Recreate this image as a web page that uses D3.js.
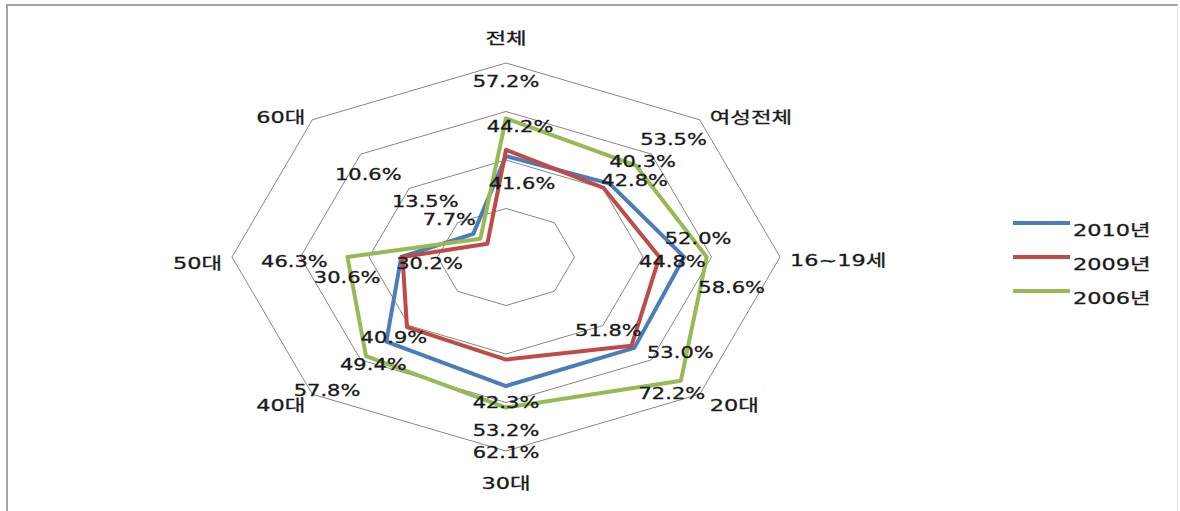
<!DOCTYPE html>
<html>
<head>
<meta charset="utf-8">
<script src="https://cdn.jsdelivr.net/npm/d3@7"></script>
<style>
  html, body { margin: 0; padding: 0; background: #fff; }
  svg { display: block; }
  text { font-family: "DejaVu Sans", "Noto Sans CJK KR", sans-serif; fill: #1a1a1a; stroke: #1a1a1a; stroke-width: 0.3px; }
</style>
</head>
<body>
<svg id="chart" width="1180" height="511"></svg>
<script>
// Categories around the radar (clockwise from top)
const categories = ["전체", "여성전체", "16~19세", "20대", "30대", "40대", "50대", "60대"];

// Series values (%)
const seriesNames = ["2010년", "2009년", "2006년"];
const values2010 = [41.6, 42.8, 52.0, 53.0, 53.2, 49.4, 30.6, 13.5];
const values2009 = [44.2, 40.3, 44.8, 51.8, 42.3, 40.9, 30.2, 7.7];
const values2006 = [57.2, 53.5, 58.6, 72.2, 62.1, 57.8, 46.3, 10.6];

// Ring ticks
const ringTicks = [20, 40, 60, 80];

// Label nudges (dx, dy) from each data point, per series
const labelNudge2010 = [[16, 27], [25, -3], [14, -18], [46, 5], [0, 45], [-13, 23], [-54, 21], [-48, -32]];
const labelNudge2009 = [[14, -23], [39, -26], [13, 5], [-23, -15], [0, 43], [-13, 10], [27, 7], [-38, -24]];
const labelNudge2006 = [[0, -37], [38, -26], [25, 31], [-9, 13], [0, 45], [-39, 34], [-53, 5], [-112, -64]];
// Category label nudges from each outer vertex
const catNudge = [[0, -25], [10, -3], [10, 3], [10, 11], [0, 32], [-7, 11], [-10, 6], [-7, -3]];

const colors = ["#4A7EBB", "#BE4B48", "#98B954"];
const series = [
  { name: seriesNames[0], values: values2010, nudge: labelNudge2010, color: colors[0] },
  { name: seriesNames[1], values: values2009, nudge: labelNudge2009, color: colors[1] },
  { name: seriesNames[2], values: values2006, nudge: labelNudge2006, color: colors[2] }
];

const svg = d3.select("#chart");
const W = 1180, H = 511;
const cx = 506, cy = 257;
const rx = 274, ry = 194;   // plot is wider than tall
const stretch = 1.4;        // horizontal stretch of lettering

// Frame
svg.append("line").attr("x1", 6).attr("x2", 1178).attr("y1", 5).attr("y2", 5)
  .attr("stroke", "#a3a3a3").attr("stroke-width", 2);
svg.append("line").attr("x1", 7).attr("x2", 7).attr("y1", 5).attr("y2", H)
  .attr("stroke", "#a3a3a3").attr("stroke-width", 2);
svg.append("line").attr("x1", 1177.5).attr("x2", 1177.5).attr("y1", 5).attr("y2", H)
  .attr("stroke", "#e4e4e4").attr("stroke-width", 1);

const n = categories.length;
const angle = d3.scaleLinear().domain([0, n]).range([0, 2 * Math.PI]);
const rX = d3.scaleLinear().domain([0, 80]).range([0, rx]);
const rY = d3.scaleLinear().domain([0, 80]).range([0, ry]);

function pt(i, v) {
  const a = angle(i);
  return [cx + Math.sin(a) * rX(v), cy - Math.cos(a) * rY(v)];
}

// Grid rings
const ringLine = d3.line();
svg.append("g").selectAll("path").data(ringTicks).join("path")
  .attr("d", t => ringLine(d3.range(n).map(i => pt(i, t))) + "Z")
  .attr("fill", "none").attr("stroke", "#878787").attr("stroke-width", 1);

// Series lines
const lineGen = d3.line().curve(d3.curveLinearClosed);
svg.append("g").selectAll("path").data(series).join("path")
  .attr("d", s => lineGen(s.values.map((v, i) => pt(i, v))))
  .attr("fill", "none").attr("stroke", s => s.color)
  .attr("stroke-width", 4).attr("stroke-linejoin", "round");

// Data labels
const labels = [];
series.forEach(s => s.values.forEach((v, i) => {
  const p = pt(i, v);
  labels.push({ x: p[0] + s.nudge[i][0], y: p[1] + s.nudge[i][1], text: d3.format(".1f")(v) + "%" });
}));
svg.append("g").selectAll("text").data(labels).join("text")
  .attr("transform", d => `translate(${d.x},${d.y}) scale(${stretch},1)`)
  .attr("text-anchor", "middle").attr("dy", "0.36em")
  .attr("font-size", 15)
  .text(d => d.text);

// Category labels
svg.append("g").selectAll("text").data(categories).join("text")
  .attr("transform", (c, i) => {
    const p = pt(i, 80);
    return `translate(${p[0] + catNudge[i][0]},${p[1] + catNudge[i][1]}) scale(${stretch},1)`;
  })
  .attr("text-anchor", (c, i) => catNudge[i][0] > 0 ? "start" : (catNudge[i][0] < 0 ? "end" : "middle"))
  .attr("dy", "0.36em").attr("font-size", 16)
  .text(c => c);

// Legend
const legend = svg.append("g").attr("transform", "translate(1013,223)");
const item = legend.selectAll("g").data(series).join("g")
  .attr("transform", (s, i) => `translate(0,${i * 34})`);
item.append("line").attr("x1", 0).attr("x2", 57).attr("y1", 0).attr("y2", 0)
  .attr("stroke", s => s.color).attr("stroke-width", 4);
item.append("text")
  .attr("transform", `translate(60,7) scale(${stretch},1)`)
  .attr("dy", "0.36em").attr("font-size", 16)
  .text(s => s.name);
</script>
</body>
</html>
